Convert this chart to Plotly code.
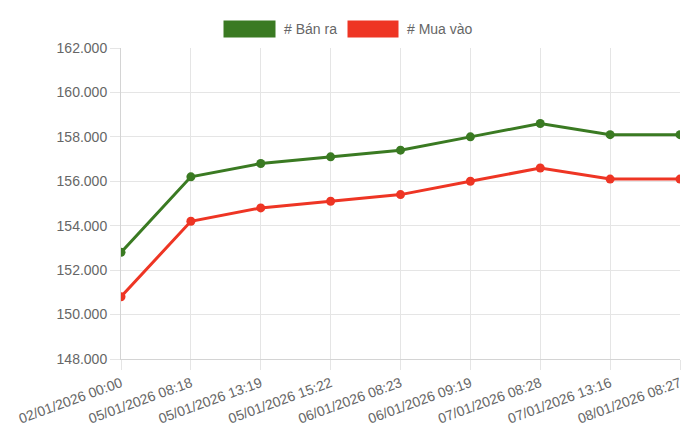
import plotly.graph_objects as go

# times of each price update
labels = ["02/01/2026 00:00", "05/01/2026 08:18", "05/01/2026 13:19",
          "05/01/2026 15:22", "06/01/2026 08:23", "06/01/2026 09:19",
          "07/01/2026 08:28", "07/01/2026 13:16", "08/01/2026 08:27"]
ban_ra = [152800, 156200, 156800, 157100, 157400, 158000, 158600, 158100, 158100]
mua_vao = [150800, 154200, 154800, 155100, 155400, 156000, 156600, 156100, 156100]
y_ticks = [148000, 150000, 152000, 154000, 156000, 158000, 160000, 162000]

GREEN = "#3a7a22"
RED = "#ee3524"
GRID = "#e5e5e5"
TEXT = "#666666"

# page body has an 8px margin, so the figure is a bit smaller than the window
OFF = 8
W, H = 700 - OFF, 441 - OFF
L, R, T, B = 121 - OFF, 20, 48 - OFF, 82


# page pixel -> paper coords, for the hand drawn legend
def px(x):
    return (x - OFF - L) / (W - L - R)


def py(y):
    return (H - B - (y - OFF)) / (H - T - B)


fig = go.Figure()
fig.add_trace(go.Scatter(x=labels, y=ban_ra, name="# Bán ra", mode="lines+markers",
                         line=dict(color=GREEN, width=3),
                         marker=dict(color=GREEN, size=9)))
fig.add_trace(go.Scatter(x=labels, y=mua_vao, name="# Mua vào", mode="lines+markers",
                         line=dict(color=RED, width=3),
                         marker=dict(color=RED, size=9)))

# legend like chart.js: coloured boxes + text
legend = [("# Bán ra", GREEN, 223, 276, 282), ("# Mua vào", RED, 347, 399, 405)]
shapes = []
annotations = []
for name, col, x0, x1, tx in legend:
    shapes.append(dict(type="rect", xref="paper", yref="paper",
                       x0=px(x0), x1=px(x1), y0=py(38), y1=py(20),
                       fillcolor=col, line=dict(color="white", width=1)))
    annotations.append(dict(text=name, xref="paper", yref="paper",
                            x=px(tx), y=py(29), xanchor="left", yanchor="middle",
                            showarrow=False, font=dict(size=14, color=TEXT)))

fig.update_layout(
    width=W, height=H,
    margin=dict(l=L, r=R, t=T, b=B, autoexpand=False),
    plot_bgcolor="white", paper_bgcolor="white",
    font=dict(family="Liberation Sans, Arial, sans-serif", size=14, color=TEXT),
    separators=",.",
    showlegend=False,
    shapes=shapes,
    annotations=annotations,
)
fig.update_xaxes(type="category", range=[0, len(labels) - 1],
                 showgrid=True, gridcolor=GRID, gridwidth=1,
                 showline=True, linecolor="#d4d4d4", linewidth=1,
                 ticks="outside", ticklen=10, tickcolor=GRID,
                 tickangle=-20, tickfont=dict(size=14, color=TEXT),
                 automargin=False)
fig.update_yaxes(range=[148000, 162000], tickvals=y_ticks, tickformat=",d",
                 showgrid=True, gridcolor=GRID, gridwidth=1,
                 showline=True, linecolor="#d4d4d4", linewidth=1,
                 zeroline=False,
                 ticks="outside", ticklen=10, tickcolor=GRID,
                 tickfont=dict(size=14, color=TEXT),
                 automargin=False)

fig.write_html("out.html")
